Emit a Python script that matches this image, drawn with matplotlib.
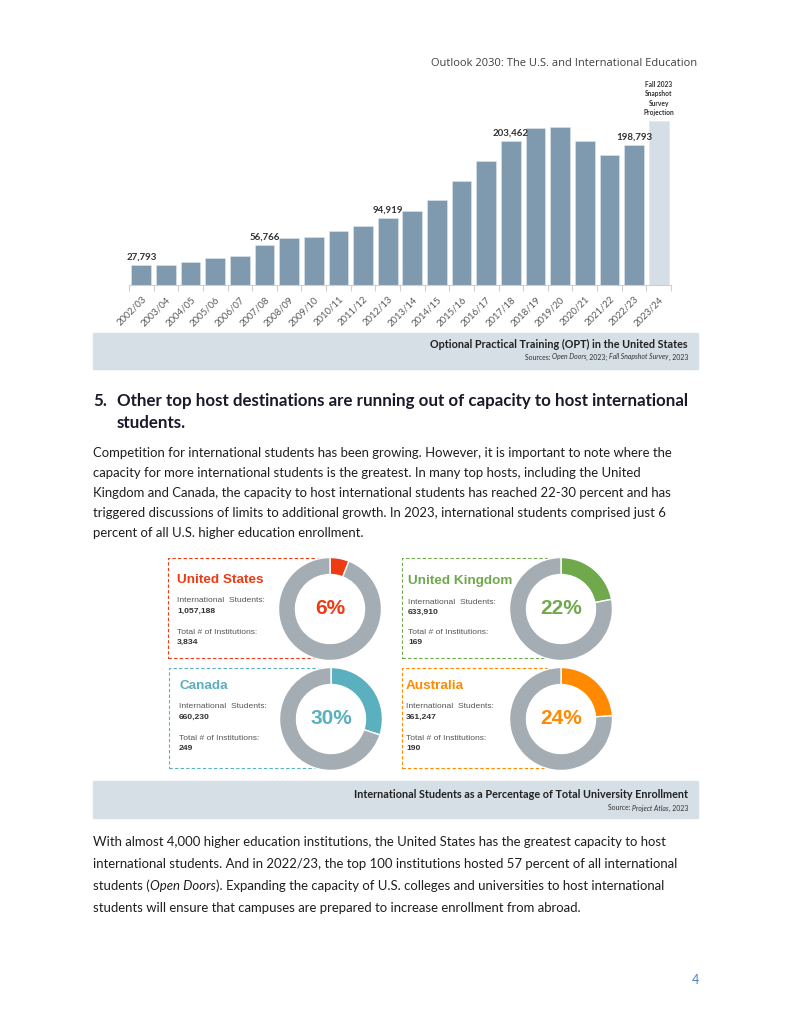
import matplotlib
matplotlib.use("Agg")
import matplotlib.pyplot as plt
from matplotlib.patches import Rectangle, Circle

# ---------------- data ----------------
years = ["2002/03", "2003/04", "2004/05", "2005/06", "2006/07", "2007/08", "2008/09",
         "2009/10", "2010/11", "2011/12", "2012/13", "2013/14", "2014/15", "2015/16",
         "2016/17", "2017/18", "2018/19", "2019/20", "2020/21", "2021/22", "2022/23",
         "2023/24"]
opt_values = [27793, 28400, 32200, 37800, 41200, 56766, 66200, 68100, 76200, 84200,
              94919, 105500, 120100, 147600, 176000, 203462, 223100, 223500, 203900,
              184500, 198793, 232500]
labeled_years = ["2002/03", "2007/08", "2012/13", "2017/18", "2022/23"]
projection_year = "2023/24"
projection_label = "Fall 2023\nSnapshot\nSurvey\nProjection"

countries = ["United States", "United Kingdom", "Canada", "Australia"]
pct_intl = [6, 22, 30, 24]
intl_students = ["1,057,188", "633,910", "660,230", "361,247"]
institutions = ["3,834", "169", "249", "190"]
country_colors = ["#ee3b12", "#70a94b", "#5ab0bf", "#ff8a00"]

# ---------------- figure ----------------
W, H = 791, 1024
fig = plt.figure(figsize=(W / 100, H / 100), dpi=100)
fig.patch.set_facecolor("white")
renderer = fig.canvas.get_renderer()

BODY = ["Lato", "DejaVu Sans"]
ARIAL = ["Liberation Sans", "DejaVu Sans"]
TXT = "#1f1f1f"


def fx(x):
    return x / W


def fy(y):
    return 1 - y / H


def put(x, y, s, **kw):
    kw.setdefault("family", BODY)
    kw.setdefault("va", "center")
    kw.setdefault("color", TXT)
    return fig.text(fx(x), fy(y), s, **kw)


def width_of(s, **kw):
    kw.setdefault("family", BODY)
    t1 = fig.text(0, 0, "a" + s + "a", **kw)
    t2 = fig.text(0, 0, "aa", **kw)
    w = t1.get_window_extent(renderer).width - t2.get_window_extent(renderer).width
    t1.remove(); t2.remove()
    return w


def parts_width(parts, **kw):
    return sum(width_of(s, **{**kw, **st}) for s, st in parts)


def put_parts(x, y, parts, ha="left", **kw):
    widths = [width_of(s, **{**kw, **st}) for s, st in parts]
    total = sum(widths)
    start = x - total if ha == "right" else x
    for (s, st), w in zip(parts, widths):
        put(start, y, s, ha="left", **{**kw, **st})
        start += w


def fit_size(s, target, **kw):
    base = 10.0
    w = width_of(s, fontsize=base, **kw)
    return base * target / w


def fit_parts(parts, target, **kw):
    base = 10.0
    return base * target / parts_width(parts, fontsize=base, **kw)


# header
hdr = "Outlook 2030: The U.S. and International Education"
put(697, 63, hdr, ha="right", fontsize=fit_size(hdr, 264, family=["Open Sans"]),
    family=["Open Sans", "DejaVu Sans"], color="#404040")

# ---------------- bar chart ----------------
ax_l, ax_r, ax_t, ax_b = 129, 671, 121, 285
ax = fig.add_axes([fx(ax_l), fy(ax_b), (ax_r - ax_l) / W, (ax_b - ax_t) / H])
xs = list(range(len(years)))
colors = ["#d5dee6" if y == projection_year else "#7f9aae" for y in years]
ax.bar(xs, opt_values, width=0.8, color=colors, edgecolor="#dfe6ec", linewidth=0.4)
ax.set_xlim(-0.5, len(years) - 0.5)
ax.set_ylim(0, max(opt_values))
for sp in ["top", "right", "left"]:
    ax.spines[sp].set_visible(False)
ax.spines["bottom"].set_color("#cfcfcf")
ax.spines["bottom"].set_linewidth(0.8)
ax.set_yticks([])
ax.set_xticks(xs)
ax.set_xticklabels(years, rotation=45, ha="right", rotation_mode="anchor",
                   fontsize=6.9, color="#595959", family=BODY)
ax.tick_params(axis="x", which="major", length=0, pad=7)
ax.set_xticks([i + 0.5 for i in range(-1, len(years))], minor=True)
ax.tick_params(axis="x", which="minor", length=4, color="#cfcfcf", width=0.8)
for i, (y, v) in enumerate(zip(years, opt_values)):
    if y in labeled_years:
        ax.annotate(f"{v:,}", (i, v), xytext=(0, 2.5), textcoords="offset points",
                    ha="center", va="bottom", fontsize=7, fontweight="bold",
                    color="#333333", family=BODY, annotation_clip=False)
    if y == projection_year:
        ax.annotate(projection_label, (i, v), xytext=(0, 3.5), textcoords="offset points",
                    ha="center", va="bottom", fontsize=4.8, fontweight="bold",
                    color="#333333", family=BODY, linespacing=1.4,
                    annotation_clip=False)

# caption band 1
fig.patches.append(Rectangle((fx(93), fy(369)), (698 - 93) / W, 36 / H,
                             transform=fig.transFigure, color="#d6dee6", zorder=-2))
cap1 = "Optional Practical Training (OPT) in the United States"
put(688, 344, cap1, ha="right", fontsize=fit_size(cap1, 256, fontweight="bold"),
    fontweight="bold", color="#222222")
src1 = [("Sources: ", {}), ("Open Doors", {"style": "italic"}), (", 2023; ", {}),
        ("Fall Snapshot Survey", {"style": "italic"}), (", 2023", {})]
cap_small = fit_parts(src1, 163)
put_parts(688, 357, src1, ha="right", fontsize=cap_small, color="#333333")

# heading
head1 = "Other top host destinations are running out of capacity to host international"
hsz = fit_size(head1, 689 - 117, fontweight="bold")
put(93, 401, "5.", fontsize=hsz, fontweight="bold", color="#1a1a2a")
put(117, 401, head1, fontsize=hsz, fontweight="bold", color="#1a1a2a")
put(117, 423, "students.", fontsize=hsz, fontweight="bold", color="#1a1a2a")

# paragraph 1
p1 = ["Competition for international students has been growing. However, it is important to note where the",
      "capacity for more international students is the greatest. In many top hosts, including the United",
      "Kingdom and Canada, the capacity to host international students has reached 22-30 percent and has",
      "triggered discussions of limits to additional growth. In 2023, international students comprised just 6",
      "percent of all U.S. higher education enrollment."]
bsz = fit_size(p1[0], 676 - 93)
for i, line in enumerate(p1):
    put(93, 453 + 20 * i, line, fontsize=bsz)

# ---------------- donut panel ----------------
boxes = [(168, 558, 330, 658), (402, 558, 561, 658), (169, 668, 331, 768), (402, 668, 561, 768)]
centers = [(330, 609), (561, 609), (331, 719), (561, 719)]
title_pos = [(177, 580), (408, 581), (179, 686), (406, 686)]
R = 52
for k in range(4):
    x0, y0, x1, y1 = boxes[k]
    col = country_colors[k]
    fig.patches.append(Rectangle((fx(x0), fy(y1)), (x1 - x0) / W, (y1 - y0) / H,
                                 transform=fig.transFigure, fill=False, edgecolor=col,
                                 linewidth=0.8, linestyle=(0, (3, 2)), zorder=-1))
    tx, ty = title_pos[k]
    put(tx, ty, countries[k], fontsize=9.7, fontweight="bold", color=col, family=ARIAL)
    put(tx, ty + 21, "International  Students:", fontsize=6.1, color="#555555", family=ARIAL)
    put(tx, ty + 31, intl_students[k], fontsize=6.1, fontweight="bold", color="#333333",
        family=ARIAL)
    put(tx, ty + 52, "Total # of Institutions:", fontsize=6.1, color="#555555", family=ARIAL)
    put(tx, ty + 62, institutions[k], fontsize=6.1, fontweight="bold", color="#333333",
        family=ARIAL)

    cx, cy = centers[k]
    dax = fig.add_axes([fx(cx - R), fy(cy + R), 2 * R / W, 2 * R / H])
    dax.set_zorder(3)
    dax.pie([pct_intl[k], 100 - pct_intl[k]], colors=[col, "#a4acb4"], startangle=90,
            counterclock=False, wedgeprops=dict(width=0.33, edgecolor="white", linewidth=1))
    dax.add_patch(Circle((0, 0), 0.67, color="white", zorder=0))
    dax.set_xlim(-1.01, 1.01)
    dax.set_ylim(-1.01, 1.01)
    dax.set_aspect("equal")
    dax.axis("off")
    dax.text(0, 0, f"{pct_intl[k]}%", ha="center", va="center", fontsize=15,
             fontweight="bold", color=col, family=ARIAL)

# caption band 2
fig.patches.append(Rectangle((fx(93), fy(818)), (698 - 93) / W, 37 / H,
                             transform=fig.transFigure, color="#d6dee6", zorder=-2))
cap2 = "International Students as a Percentage of Total University Enrollment"
put(688, 795, cap2, ha="right", fontsize=fit_size(cap2, 334, fontweight="bold"),
    fontweight="bold", color="#222222")
put_parts(688, 808, [("Source: ", {}), ("Project Atlas", {"style": "italic"}), (", 2023", {})],
          ha="right", fontsize=cap_small, color="#333333")

# paragraph 2
put(93, 842, "With almost 4,000 higher education institutions, the United States has the greatest capacity to host",
    fontsize=bsz)
put(93, 864, "international students. And in 2022/23, the top 100 institutions hosted 57 percent of all international",
    fontsize=bsz)
put_parts(93, 886, [("students (", {}), ("Open Doors", {"style": "italic"}),
                    ("). Expanding the capacity of U.S. colleges and universities to host international", {})],
          fontsize=bsz)
put(93, 908, "students will ensure that campuses are prepared to increase enrollment from abroad.",
    fontsize=bsz)

# page number
put(695, 980, "4", fontsize=9, color="#4f7fbf", ha="center")

fig.savefig("out.png", dpi=100, facecolor="white")
